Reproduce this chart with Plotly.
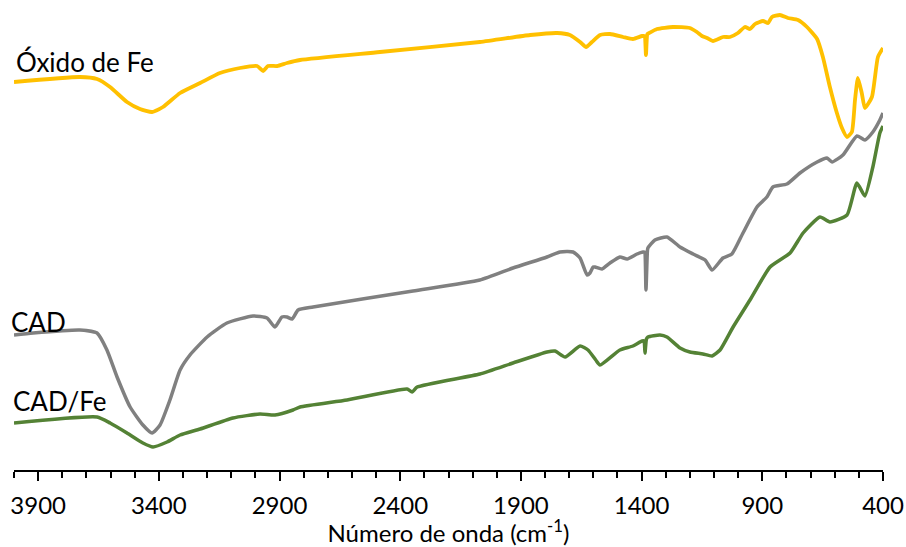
import plotly.graph_objects as go

# Wavenumbers (cm-1) and relative transmittance (arbitrary units)
oxido_wn = [4000, 3727, 3656, 3602, 3532, 3478, 3428, 3383, 3312, 3229, 3147, 3064, 2993,
            2968, 2948, 2910, 2869, 2815, 2484, 2070, 1862, 1750, 1697, 1655, 1630, 1606,
            1572, 1531, 1477, 1436, 1398, 1388, 1382, 1376, 1369, 1336, 1270, 1200, 1171,
            1150, 1129, 1104, 1063, 1034, 1001, 972, 951, 930, 897, 876, 860, 827, 794,
            752, 715, 673, 649, 620, 591, 570, 549, 529, 516, 504, 488, 475, 446, 421, 400]
oxido_t = [388, 393, 391, 383, 368, 361, 358, 363, 377, 387, 397, 402, 404,
           399, 404, 404, 407, 410, 418, 428, 435, 437, 435, 428, 423, 428,
           435, 436, 433, 431, 434, 434, 415, 436, 437, 441, 443, 442, 438,
           434, 432, 429, 433, 433, 437, 443, 441, 446, 449, 447, 453, 455, 452,
           450, 443, 431, 413, 383, 357, 342, 333, 338, 370, 392, 377, 362, 373, 413, 422]

cad_wn = [4000, 3921, 3727, 3656, 3615, 3573, 3519, 3466, 3428, 3395, 3354, 3312, 3271,
          3200, 3118, 3010, 2952, 2919, 2890, 2869, 2848, 2823, 2761, 2347, 2070, 1933,
          1792, 1738, 1684, 1655, 1626, 1614, 1601, 1593, 1564, 1531, 1490, 1460, 1419,
          1394, 1388, 1382, 1376, 1374, 1345, 1295, 1241, 1187, 1137, 1108, 1063, 1026,
          980, 922, 881, 856, 798, 744, 673, 632, 611, 566, 508, 475, 442, 413, 400]
cad_t = [135, 137, 140, 137, 120, 93, 63, 45, 37, 45, 70, 100, 115,
         133, 147, 154, 152, 143, 153, 153, 151, 160, 163, 179, 190, 202,
         213, 218, 218, 212, 195, 197, 203, 203, 201, 207, 213, 211, 216,
         218, 218, 180, 219, 222, 230, 233, 223, 216, 210, 200, 212, 216,
         237, 263, 273, 283, 286, 297, 308, 312, 308, 315, 334, 330, 338, 350, 357]

cadfe_wn = [4000, 3656, 3602, 3532, 3466, 3424, 3366, 3312, 3229, 3093, 2981, 2919, 2844,
            2815, 2620, 2372, 2351, 2330, 2070, 1933, 1792, 1759, 1717, 1655, 1622, 1590,
            1572, 1490, 1436, 1398, 1390, 1386, 1380, 1374, 1324, 1295, 1241, 1200, 1146,
            1108, 1075, 1021, 951, 868, 785, 731, 661, 620, 549, 508, 475, 442, 413, 400]
cadfe_t = [47, 53, 47, 37, 27, 23, 28, 35, 41, 52, 56, 55, 60,
           63, 70, 81, 78, 83, 96, 107, 118, 119, 113, 124, 120, 110,
           105, 120, 124, 129, 129, 117, 131, 133, 135, 133, 122, 118, 116,
           114, 120, 143, 170, 203, 217, 237, 253, 248, 255, 287, 274, 303, 337, 344]

tick_vals = [3900, 3400, 2900, 2400, 1900, 1400, 900, 400]
tick_text = ["3900", "3400", "2900", "2400", "1900", "1400", "900", "400"]

FONT = "Lato"

fig = go.Figure()
fig.add_trace(go.Scatter(x=oxido_wn, y=oxido_t, mode="lines", name="Óxido de Fe",
                         line=dict(color="#FFC000", width=3.8, shape="spline", smoothing=0.5)))
fig.add_trace(go.Scatter(x=cad_wn, y=cad_t, mode="lines", name="CAD",
                         line=dict(color="#808080", width=3.5, shape="spline", smoothing=0.5)))
fig.add_trace(go.Scatter(x=cadfe_wn, y=cadfe_t, mode="lines", name="CAD/Fe",
                         line=dict(color="#548235", width=3.5, shape="spline", smoothing=0.5)))

fig.update_layout(
    width=906, height=547, autosize=False,
    margin=dict(l=14, r=23, t=8, b=77),
    paper_bgcolor="white", plot_bgcolor="white",
    showlegend=False,
    font=dict(family=FONT, size=24, color="black"),
    xaxis=dict(
        range=[4000, 400], showgrid=False, zeroline=False, automargin=False,
        showline=True, linecolor="black", linewidth=1.5,
        tickmode="array", tickvals=tick_vals, ticktext=tick_text,
        ticks="outside", ticklen=9, tickwidth=1.5, tickcolor="black",
        tickfont=dict(family=FONT, size=24, color="black"),
        ticklabelstandoff=4,
        minor=dict(tickmode="linear", tick0=0, dtick=100, ticks="outside",
                   ticklen=6, tickwidth=1.5, tickcolor="black"),
        title=dict(text="Número de onda (cm<sup>-1</sup>)",
                   font=dict(family=FONT, size=24, color="black"), standoff=4),
    ),
    yaxis=dict(range=[0, 462], visible=False, automargin=False),
)

fig.add_annotation(x=0.0, xref="paper", y=408, yref="y", text="Óxido de Fe",
                   showarrow=False, xanchor="left", yanchor="middle",
                   font=dict(family=FONT, size=26, color="black"))
fig.add_annotation(x=-0.006, xref="paper", y=148, yref="y", text="CAD",
                   showarrow=False, xanchor="left", yanchor="middle",
                   font=dict(family=FONT, size=26, color="black"))
fig.add_annotation(x=-0.003, xref="paper", y=69, yref="y", text="CAD/Fe",
                   showarrow=False, xanchor="left", yanchor="middle",
                   font=dict(family=FONT, size=26, color="black"))

fig.write_html(
    "out.html",
    config={"displayModeBar": False, "responsive": False},
    post_script="document.body.style.margin='0';document.body.style.overflow='hidden';",
)
